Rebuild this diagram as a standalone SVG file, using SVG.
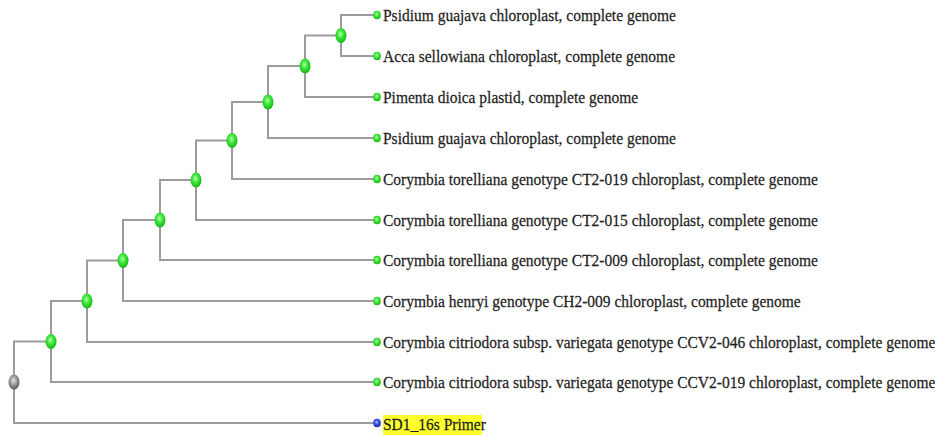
<svg xmlns="http://www.w3.org/2000/svg" width="935" height="437" viewBox="0 0 935 437">
  <defs>
    <radialGradient id="gGreen" cx="45%" cy="40%" r="60%">
      <stop offset="0" stop-color="#b8ffb0"/>
      <stop offset="0.45" stop-color="#3ee83a"/>
      <stop offset="1" stop-color="#17b417"/>
    </radialGradient>
    <radialGradient id="gGray" cx="45%" cy="40%" r="60%">
      <stop offset="0" stop-color="#e6e6e6"/>
      <stop offset="0.5" stop-color="#9a9a9a"/>
      <stop offset="1" stop-color="#5a5a5a"/>
    </radialGradient>
    <radialGradient id="gBlue" cx="45%" cy="40%" r="60%">
      <stop offset="0" stop-color="#a8b4ff"/>
      <stop offset="0.5" stop-color="#3a4ee0"/>
      <stop offset="1" stop-color="#1c2aa0"/>
    </radialGradient>
  </defs>
  <style>
    .edge { fill: none; stroke: #9c9c9c; stroke-width: 2; }
    .inner { fill: url(#gGreen); }
    .root { fill: url(#gGray); }
    .tip { fill: url(#gGreen); }
    .tipq { fill: url(#gBlue); }
    .lbl { font-family: "Liberation Serif", "Times New Roman", serif; font-size: 17.5px; fill: #1e1e1e; stroke: #1e1e1e; stroke-width: 0.25; }
  </style>
  <rect width="935" height="437" fill="#ffffff"/>

  <!-- elbow connectors: parent x, down/up to child y, across to child x -->
  <g id="connectors">
    <path class="edge" d="M14 382 V341.5 H51"/>
    <path class="edge" d="M14 382 V423 H377"/>
    <path class="edge" d="M51 341.5 V301 H87"/>
    <path class="edge" d="M51 341.5 V382 H377"/>
    <path class="edge" d="M87 301 V260.5 H123"/>
    <path class="edge" d="M87 301 V342 H377"/>
    <path class="edge" d="M123 260.5 V220 H160"/>
    <path class="edge" d="M123 260.5 V301 H377"/>
    <path class="edge" d="M160 220 V180 H196"/>
    <path class="edge" d="M160 220 V260 H377"/>
    <path class="edge" d="M196 180 V140.5 H232"/>
    <path class="edge" d="M196 180 V220 H377"/>
    <path class="edge" d="M232 140.5 V102 H268"/>
    <path class="edge" d="M232 140.5 V179 H377"/>
    <path class="edge" d="M268 102 V66 H305"/>
    <path class="edge" d="M268 102 V138 H377"/>
    <path class="edge" d="M305 66 V35.5 H341"/>
    <path class="edge" d="M305 66 V97 H377"/>
    <path class="edge" d="M341 35.5 V15 H377"/>
    <path class="edge" d="M341 35.5 V56 H377"/>
  </g>

  <!-- internal nodes -->
  <g id="root"><ellipse class="root" cx="14" cy="382" rx="5.5" ry="7.5"/></g>
  <g id="n1"><ellipse class="inner" cx="51" cy="341.5" rx="5.5" ry="7.5"/></g>
  <g id="n2"><ellipse class="inner" cx="87" cy="301" rx="5.5" ry="7.5"/></g>
  <g id="n3"><ellipse class="inner" cx="123" cy="260.5" rx="5.5" ry="7.5"/></g>
  <g id="n4"><ellipse class="inner" cx="160" cy="220" rx="5.5" ry="7.5"/></g>
  <g id="n5"><ellipse class="inner" cx="196" cy="180" rx="5.5" ry="7.5"/></g>
  <g id="n6"><ellipse class="inner" cx="232" cy="140.5" rx="5.5" ry="7.5"/></g>
  <g id="n7"><ellipse class="inner" cx="268" cy="102" rx="5.5" ry="7.5"/></g>
  <g id="n8"><ellipse class="inner" cx="305" cy="66" rx="5.5" ry="7.5"/></g>
  <g id="n9"><ellipse class="inner" cx="341" cy="35.5" rx="5.5" ry="7.5"/></g>

  <!-- leaves: labels are set in a narrowed serif -->
  <g id="leaf1"><ellipse class="tip" cx="377" cy="15" rx="3.8" ry="4.3"/><text class="lbl" transform="translate(383 21) scale(0.886 1)">Psidium guajava chloroplast, complete genome</text></g>
  <g id="leaf2"><ellipse class="tip" cx="377" cy="56" rx="3.8" ry="4.3"/><text class="lbl" transform="translate(383 62) scale(0.886 1)">Acca sellowiana chloroplast, complete genome</text></g>
  <g id="leaf3"><ellipse class="tip" cx="377" cy="97" rx="3.8" ry="4.3"/><text class="lbl" transform="translate(383 103) scale(0.886 1)">Pimenta dioica plastid, complete genome</text></g>
  <g id="leaf4"><ellipse class="tip" cx="377" cy="138" rx="3.8" ry="4.3"/><text class="lbl" transform="translate(383 144) scale(0.886 1)">Psidium guajava chloroplast, complete genome</text></g>
  <g id="leaf5"><ellipse class="tip" cx="377" cy="179" rx="3.8" ry="4.3"/><text class="lbl" transform="translate(383 185) scale(0.886 1)">Corymbia torelliana genotype CT2-019 chloroplast, complete genome</text></g>
  <g id="leaf6"><ellipse class="tip" cx="377" cy="220" rx="3.8" ry="4.3"/><text class="lbl" transform="translate(383 226) scale(0.886 1)">Corymbia torelliana genotype CT2-015 chloroplast, complete genome</text></g>
  <g id="leaf7"><ellipse class="tip" cx="377" cy="260" rx="3.8" ry="4.3"/><text class="lbl" transform="translate(383 266) scale(0.886 1)">Corymbia torelliana genotype CT2-009 chloroplast, complete genome</text></g>
  <g id="leaf8"><ellipse class="tip" cx="377" cy="301" rx="3.8" ry="4.3"/><text class="lbl" transform="translate(383 307) scale(0.886 1)">Corymbia henryi genotype CH2-009 chloroplast, complete genome</text></g>
  <g id="leaf9"><ellipse class="tip" cx="377" cy="342" rx="3.8" ry="4.3"/><text class="lbl" transform="translate(383 348) scale(0.886 1)">Corymbia citriodora subsp. variegata genotype CCV2-046 chloroplast, complete genome</text></g>
  <g id="leaf10"><ellipse class="tip" cx="377" cy="382" rx="3.8" ry="4.3"/><text class="lbl" transform="translate(383 388) scale(0.886 1)">Corymbia citriodora subsp. variegata genotype CCV2-019 chloroplast, complete genome</text></g>
  <g id="query">
    <rect x="383" y="415" width="99" height="20" fill="#ffff2e"/>
    <ellipse class="tipq" cx="377" cy="423" rx="3.8" ry="4.3"/>
    <text class="lbl" transform="translate(383 430) scale(0.886 1)">SD1_16s Primer</text>
  </g>
</svg>
